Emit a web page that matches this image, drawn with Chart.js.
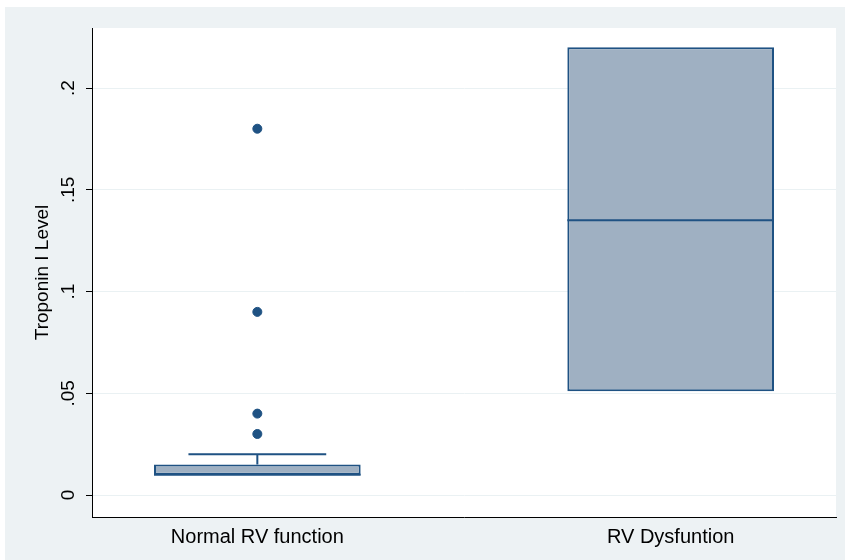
<!DOCTYPE html>
<html lang="en">
<head>
  <meta charset="UTF-8">
  <title>Troponin I Level by RV function</title>
  <script src="https://cdn.jsdelivr.net/npm/chart.js"></script>
  <style>
    html, body { margin: 0; padding: 0; background: #fff; overflow: hidden; }
    #boxChart { display: block; }
  </style>
</head>
<body>
<canvas id="boxChart" width="845" height="560"></canvas>
<script>
  // data
  const groups = ['Normal RV function', 'RV Dysfuntion'];
  const q1 = [0.01, 0.051];
  const q3 = [0.015, 0.22];
  const medians = [0.01, 0.135];
  const whiskerLo = [0.01, 0.051];
  const whiskerHi = [0.02, 0.22];
  const outlierGroup = [1, 1, 1, 1];
  const outlierValues = [0.18, 0.09, 0.04, 0.03];
  const yTicks = [0, 0.05, 0.1, 0.15, 0.2];
  const yTickLabels = ['0', '.05', '.1', '.15', '.2'];

  const navy = '#1f5283';
  const fill = '#9fb0c2';
  const font = "'Liberation Sans', Arial, sans-serif";

  const backdrop = {
    id: 'backdrop',
    beforeDraw(chart) {
      const { ctx, chartArea: a } = chart;
      ctx.save();
      ctx.fillStyle = '#fff';
      ctx.fillRect(0, 0, chart.width, chart.height);
      ctx.fillStyle = '#edf2f4';
      ctx.fillRect(5, 7, chart.width - 5, chart.height - 7);
      ctx.fillStyle = '#fff';
      ctx.fillRect(a.left, a.top, a.right - a.left, a.bottom - a.top);
      ctx.restore();
    }
  };

  // medians, whiskers and rotated y labels
  const boxExtras = {
    id: 'boxExtras',
    afterDatasetsDraw(chart) {
      const { ctx, scales: { x, y } } = chart;
      ctx.save();
      ctx.strokeStyle = navy;
      ctx.lineWidth = 2;
      groups.forEach((g, i) => {
        const c = i + 1;
        const l = x.getPixelForValue(c - 0.25), r = x.getPixelForValue(c + 0.25);
        const cl = x.getPixelForValue(c - 1 / 6), cr = x.getPixelForValue(c + 1 / 6);
        const cx = x.getPixelForValue(c);
        ctx.beginPath();
        ctx.moveTo(l, y.getPixelForValue(medians[i]));
        ctx.lineTo(r, y.getPixelForValue(medians[i]));
        if (whiskerHi[i] > q3[i]) {
          ctx.moveTo(cx, y.getPixelForValue(q3[i]));
          ctx.lineTo(cx, y.getPixelForValue(whiskerHi[i]));
          ctx.moveTo(cl, y.getPixelForValue(whiskerHi[i]));
          ctx.lineTo(cr, y.getPixelForValue(whiskerHi[i]));
        }
        if (whiskerLo[i] < q1[i]) {
          ctx.moveTo(cx, y.getPixelForValue(q1[i]));
          ctx.lineTo(cx, y.getPixelForValue(whiskerLo[i]));
          ctx.moveTo(cl, y.getPixelForValue(whiskerLo[i]));
          ctx.lineTo(cr, y.getPixelForValue(whiskerLo[i]));
        }
        ctx.stroke();
      });
      ctx.fillStyle = '#000';
      ctx.font = '19px ' + font;
      ctx.textAlign = 'center';
      ctx.textBaseline = 'middle';
      yTicks.forEach((v, i) => {
        ctx.save();
        ctx.translate(y.left + 69, y.getPixelForValue(v));
        ctx.rotate(-Math.PI / 2);
        ctx.fillText(yTickLabels[i], 0, 0);
        ctx.restore();
      });
      ctx.restore();
    }
  };

  new Chart(document.getElementById('boxChart'), {
    type: 'bar',
    data: {
      datasets: [{
        type: 'bar',
        label: 'box',
        data: groups.map((g, i) => ({ x: i + 1, y: [q1[i], q3[i]] })),
        backgroundColor: fill,
        borderColor: navy,
        borderWidth: 2,
        borderSkipped: false,
        categoryPercentage: 1,
        barPercentage: 0.5,
        order: 2
      }, {
        type: 'scatter',
        label: 'outliers',
        data: outlierValues.map((v, i) => ({ x: outlierGroup[i], y: v })),
        backgroundColor: navy,
        borderColor: navy,
        pointRadius: 4.5,
        order: 1
      }]
    },
    options: {
      responsive: false,
      animation: false,
      events: [],
      layout: { padding: { left: 0, top: 28, right: 9, bottom: 0 } },
      plugins: { legend: { display: false }, tooltip: { enabled: false } },
      scales: {
        x: {
          type: 'linear',
          min: 0.6,
          max: 2.4,
          offset: false,
          afterBuildTicks: s => { s.ticks = groups.map((g, i) => ({ value: i + 1 })); },
          afterFit: s => { s.height = 43; },
          grid: { display: false },
          border: { display: true, color: '#000', width: 1 },
          ticks: {
            padding: 0,
            color: '#000',
            autoSkip: false,
            font: { family: font, size: 20 },
            maxRotation: 0,
            callback: v => groups[v - 1]
          }
        },
        y: {
          min: -0.0108,
          max: 0.2295,
          afterBuildTicks: s => { s.ticks = yTicks.map(v => ({ value: v })); },
          afterFit: s => { s.width = 92; },
          grid: { color: '#eaf1f3', tickColor: '#000', tickLength: 6, lineWidth: 1 },
          border: { display: true, color: '#000', width: 1 },
          ticks: { color: 'rgba(0,0,0,0)', autoSkip: false, font: { family: font, size: 19 } },
          title: {
            display: true,
            text: 'Troponin I Level',
            color: '#000',
            font: { family: font, size: 19 },
            padding: { top: 31 }
          }
        }
      }
    },
    plugins: [backdrop, boxExtras]
  });
</script>
</body>
</html>
